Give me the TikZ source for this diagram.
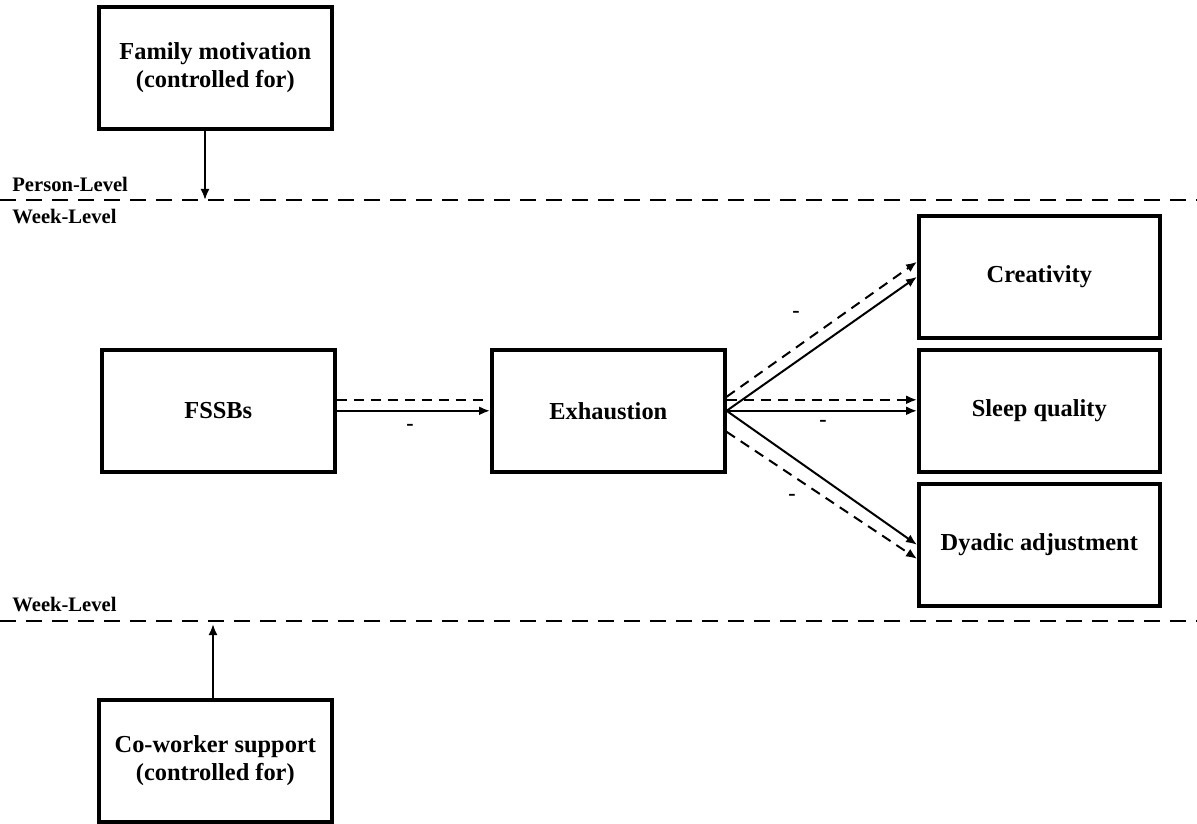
\documentclass[tikz,border=0pt]{standalone}
\usepackage{fontspec}
\setmainfont{Liberation Serif}
\usetikzlibrary{arrows.meta}
\newcommand{\bh}{61pt}

\begin{document}
\begin{tikzpicture}[x=0.5pt,y=-0.5pt,
    box/.style={draw, rectangle, anchor=north west, minimum width=116.5pt, minimum height=\bh, line width=1.8pt, inner sep=0pt, align=center, font=\bfseries\fontsize{12.2}{14}\selectfont},
    wbox/.style={box, minimum width=120.5pt},
    level/.style={anchor=west, inner sep=0pt, font=\bfseries\fontsize{10.3}{11}\selectfont},
    sep/.style={line width=1pt, dash pattern=on 8pt off 5pt},
    path/.style={line width=1pt, -{Latex[length=5.5pt,width=4.5pt]}},
    dpath/.style={path, dash pattern=on 5pt off 3.5pt},
    minus/.style={inner sep=0pt, font=\bfseries\fontsize{11}{12}\selectfont}]
    \useasboundingbox (0,0) rectangle (1197,823);

    % levels
    \draw[sep] (0,200) -- (1197,200);
    \draw[sep] (0,621) -- (1197,621);
    \node[level] (person) at (12,184) {Person-Level};
    \node[level] (week-1) at (12,217) {Week-Level};
    \node[level] (week-2) at (12,605) {Week-Level};
    \coordinate (top-line) at (205,200);
    \coordinate (bottom-line) at (213,624);

    % boxes
    \node[box] (family) at (97,5) {Family motivation\\(controlled for)};
    \node[box] (fssb) at (100,348) {FSSBs};
    \node[box] (exh) at (490,348) {Exhaustion};
    \node[wbox] (cre) at (917,214) {Creativity};
    \node[wbox] (sleep) at (917,348) {Sleep quality};
    \node[wbox] (dya) at (917,482) {Dyadic adjustment};
    \node[box] (cow) at (97,698) {Co-worker support\\(controlled for)};

    % paths
    \draw[path] (family.south -| top-line) -- (top-line);
    \draw[path] (cow.north -| bottom-line) -- (bottom-line);

    \draw[line width=1pt, dash pattern=on 5pt off 3.5pt] ([yshift=5.5pt]fssb.east) -- ([yshift=5.5pt,xshift=-2pt]exh.west);
    \draw[path] (fssb.east) -- (exh.west);
    \node[minus] (m-1) at (410,427) {-};

    \draw[dpath] ([yshift=7pt]exh.east) -- ([yshift=7.5pt]cre.west);
    \draw[path] (exh.east) -- (cre.west);
    \node[minus] (m-2) at (796,314) {-};

    \draw[dpath] ([yshift=5.5pt]exh.east) -- ([yshift=5.5pt]sleep.west);
    \draw[path] (exh.east) -- (sleep.west);
    \node[minus] (m-3) at (823,423) {-};

    \draw[path] (exh.east) -- (dya.west);
    \draw[dpath] ([yshift=-10.5pt]exh.east) -- ([yshift=-7pt]dya.west);
    \node[minus] (m-4) at (792,497) {-};

\end{tikzpicture}
\end{document}
